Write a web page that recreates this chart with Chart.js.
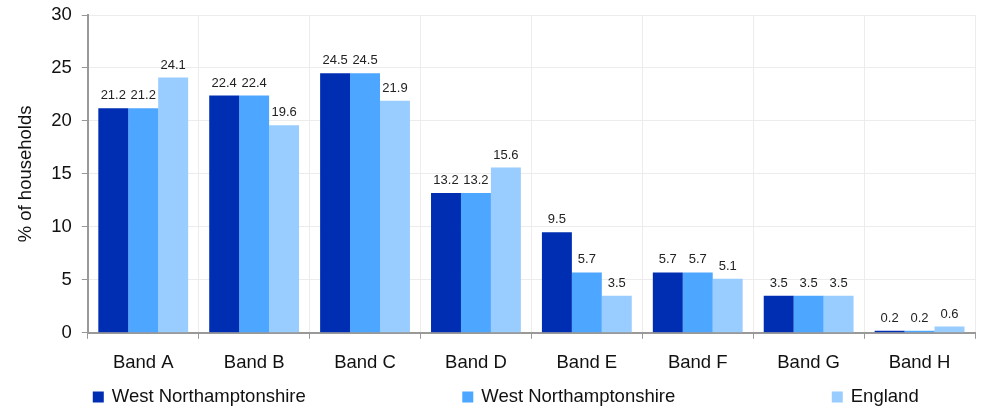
<!DOCTYPE html>
<html>
<head>
<meta charset="utf-8">
<script src="https://cdn.jsdelivr.net/npm/chart.js@4/dist/chart.umd.min.js"></script>
<style>
  html, body { margin: 0; padding: 0; background: #fff; }
  #wrap { width: 981px; height: 409px; }
</style>
</head>
<body>
<div id="wrap"><canvas id="myChart"></canvas></div>
<script>
const bands = ["Band A", "Band B", "Band C", "Band D", "Band E", "Band F", "Band G", "Band H"];
const westNorthants1 = [21.2, 22.4, 24.5, 13.2, 9.5, 5.7, 3.5, 0.2];
const westNorthants2 = [21.2, 22.4, 24.5, 13.2, 5.7, 5.7, 3.5, 0.2];
const england = [24.1, 19.6, 21.9, 15.6, 3.5, 5.1, 3.5, 0.6];
const yTicks = [0, 5, 10, 15, 20, 25, 30];

const FONT = "'Liberation Sans', Arial, sans-serif";
const SIZE = 18.5;

// draw the value above each bar
const barValues = {
  id: "barValues",
  afterDatasetsDraw(chart) {
    const ctx = chart.ctx;
    ctx.save();
    ctx.font = "13px " + FONT;
    ctx.fillStyle = "#222";
    ctx.textAlign = "center";
    ctx.textBaseline = "bottom";
    chart.data.datasets.forEach((ds, i) => {
      chart.getDatasetMeta(i).data.forEach((bar, j) => {
        ctx.fillText(ds.data[j].toFixed(1), bar.x, bar.y - 6);
      });
    });
    ctx.restore();
  },
};

// legend laid out in equal cells under the plot, like the original
const cellLegend = {
  id: "cellLegend",
  afterDraw(chart) {
    const ctx = chart.ctx;
    const area = chart.chartArea;
    const cell = 369.5;
    const x0 = area.left + 5;
    const y = chart.height - 12;
    ctx.save();
    ctx.font = SIZE + "px " + FONT;
    ctx.textBaseline = "middle";
    ctx.textAlign = "left";
    chart.data.datasets.forEach((ds, i) => {
      const x = x0 + i * cell;
      ctx.fillStyle = ds.backgroundColor;
      ctx.fillRect(x, y - 5.5, 11, 11);
      ctx.fillStyle = "#111";
      ctx.fillText(ds.label, x + 19, y);
    });
    ctx.restore();
  },
};

const ctx = document.getElementById("myChart").getContext("2d");
const chart = new Chart(ctx, {
  type: "bar",
  data: {
    labels: bands,
    datasets: [
      {
        label: "West Northamptonshire",
        data: westNorthants1,
        backgroundColor: "rgb(0, 46, 178)",
      },
      {
        label: "West Northamptonshire",
        data: westNorthants2,
        backgroundColor: "rgb(77, 166, 255)",
      },
      {
        label: "England",
        data: england,
        backgroundColor: "rgb(153, 204, 255)",
      },
    ],
  },
  options: {
    responsive: true,
    maintainAspectRatio: false,
    animation: false,
    layout: {
      padding: { top: 15, right: 6, left: 15, bottom: 22 },
    },
    datasets: {
      bar: {
        barPercentage: 1,
        categoryPercentage: 0.81,
      },
    },
    plugins: {
      tooltip: { enabled: false },
      legend: { display: false },
    },
    scales: {
      x: {
        grid: {
          color: "#ececec",
          tickColor: "#999",
          tickLength: 6,
          offset: true,
        },
        border: { color: "#999", width: 2 },
        ticks: {
          font: { family: FONT, size: SIZE },
          color: "#111",
          padding: 13,
        },
      },
      y: {
        min: 0,
        max: 30,
        afterBuildTicks: (axis) => {
          axis.ticks = yTicks.map((v) => ({ value: v }));
        },
        afterFit: (axis) => {
          axis.paddingTop = 0;
        },
        grid: {
          color: "#ececec",
          tickColor: "#999",
          tickLength: 6,
        },
        border: { color: "#999", width: 2 },
        ticks: {
          font: { family: FONT, size: SIZE },
          color: "#111",
          padding: 10,
        },
        title: {
          display: true,
          text: "% of households",
          font: { family: FONT, size: SIZE },
          color: "#111",
          padding: { top: 0, bottom: 4 },
        },
      },
    },
  },
  plugins: [barValues, cellLegend],
});
</script>
</body>
</html>
